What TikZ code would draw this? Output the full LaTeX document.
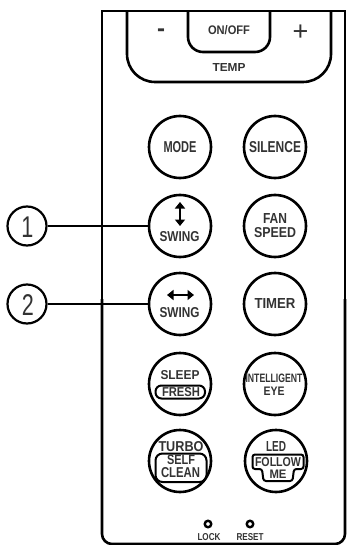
\documentclass[tikz,border=0pt]{standalone}
\usepackage{fontspec}
\setmainfont{Liberation Sans}
\usepackage{graphicx}
\usetikzlibrary{arrows.meta}
\newcommand\rt[3]{\resizebox{#1pt}{#2pt}{\bfseries #3}}
\begin{document}
\begin{tikzpicture}[x=1pt,y=-1pt,
  btn/.style={circle,draw,line width=2.6pt,minimum size=62pt,inner sep=0pt},
  numc/.style={circle,draw,line width=2.2pt,minimum size=39pt,inner sep=0pt},
  lbl/.style={inner sep=0pt,text=black!80},
  outline/.style={line width=2.6pt},
  callline/.style={line width=1.6pt},
  swarrow/.style={line width=2.6pt,{Triangle[width=10pt,length=6.5pt]}-{Triangle[width=10pt,length=6.5pt]}},
  ring/.style={circle,draw,line width=2.4pt,minimum size=6.5pt,inner sep=0pt},
  inbox/.style={line width=2pt}
]
\useasboundingbox (0,0) rectangle (357,545);
% remote body
\draw[outline] (102,300) -- (102,11) -- (345,11) -- (345,300);
\draw[outline,rounded corners=10pt] (102,299) -- (102,544) -- (345,544) -- (345,299);
% TEMP and ON/OFF shapes
\draw[outline,rounded corners=28pt] (127,11) -- (127,82) -- (331,82) -- (331,11);
\draw[outline,rounded corners=15pt] (188,11) -- (188,52) -- (270,52) -- (270,11);
\node[lbl,anchor=base] (minus) at (161,36.5) {\fontsize{24}{24}\selectfont\bfseries -};
\node[lbl,anchor=base] (plus) at (300.5,40.5) {\fontsize{27}{27}\selectfont +};
\node[lbl] (onoff) at (229,30) {\rt{42}{9}{ON/OFF}};
\node[lbl] (temp) at (229,67.5) {\rt{33}{8}{TEMP}};
% buttons
\node[btn] (mode) at (180,147) {};
\node[btn] (silence) at (275,147) {};
\node[btn] (swv) at (180,226) {};
\node[btn] (fan) at (275,226) {};
\node[btn] (swh) at (180,304) {};
\node[btn] (timer) at (275,304) {};
\node[btn] (sleep) at (180,384) {};
\node[btn] (ieye) at (275,384) {};
\node[btn] (turbo) at (180,461) {};
\node[btn] (led) at (276,461) {};
% labels
\node[lbl] (modet) at (180,147) {\rt{33}{11}{MODE}};
\node[lbl] (silencet) at (275,147) {\rt{52}{11}{SILENCE}};
\coordinate (va1) at (180,202);
\coordinate (va2) at (180,226);
\draw[swarrow] (va1) -- (va2);
\node[lbl] (swvt) at (179.5,237) {\rt{40}{10}{SWING}};
\node[lbl] (fant) at (275,218) {\rt{24}{10}{FAN}};
\node[lbl] (speedt) at (275,233) {\rt{42}{10}{SPEED}};
\coordinate (ha1) at (167,295);
\coordinate (ha2) at (194,295);
\draw[swarrow] (ha1) -- (ha2);
\node[lbl] (swht) at (179.5,312.5) {\rt{40}{10}{SWING}};
\node[lbl] (timert) at (275,303) {\rt{41}{10}{TIMER}};
\node[lbl] (sleept) at (180,375) {\rt{39}{9}{SLEEP}};
\draw[inbox,rounded corners=6pt] (155.5,385.5) rectangle (205,398.5);
\node[lbl] (fresht) at (181,392) {\rt{38}{9}{FRESH}};
\node[lbl] (intt) at (274,378) {\rt{57}{8.5}{INTELLIGENT}};
\node[lbl] (eyet) at (274,391) {\rt{21}{8.5}{EYE}};
\node[lbl] (turbot) at (181,446.7) {\rt{45}{10}{TURBO}};
\draw[inbox,rounded corners=7pt] (155.5,453.5) rectangle (206.5,482);
\node[lbl] (selft) at (181,459.7) {\rt{28}{9.5}{SELF}};
\node[lbl] (cleant) at (180.5,473) {\rt{39}{10}{CLEAN}};
\node[lbl] (ledt) at (276,446.7) {\rt{20}{10}{LED}};
\draw[inbox,rounded corners=2.5pt] (252.5,454.5) -- (303.5,454.5) -- (303.5,469) -- (294,469) -- (292.5,481) -- (263.5,481) -- (262,469) -- (252.5,469) -- cycle;
\node[lbl] (followt) at (278,462) {\rt{46}{9}{FOLLOW}};
\node[lbl] (met) at (278,474.3) {\rt{17}{8.5}{ME}};
% lock / reset
\node[ring] (lockr) at (208,524) {};
\node[ring] (resetr) at (250,524) {};
\node[lbl] (lockt) at (209,537) {\rt{23}{7}{LOCK}};
\node[lbl] (resett) at (250,537) {\rt{27}{7}{RESET}};
% callouts
\node[numc] (c1) at (27,226) {};
\node[numc] (c2) at (27,304) {};
\node[lbl] (n1) at (27.5,227) {\scalebox{0.72}[1]{\fontsize{30}{30}\selectfont 1}};
\node[lbl] (n2) at (28,305) {\scalebox{0.72}[1]{\fontsize{30}{30}\selectfont 2}};
\draw[callline] (c1) -- (swv);
\draw[callline] (c2) -- (swh);
\end{tikzpicture}
\end{document}
